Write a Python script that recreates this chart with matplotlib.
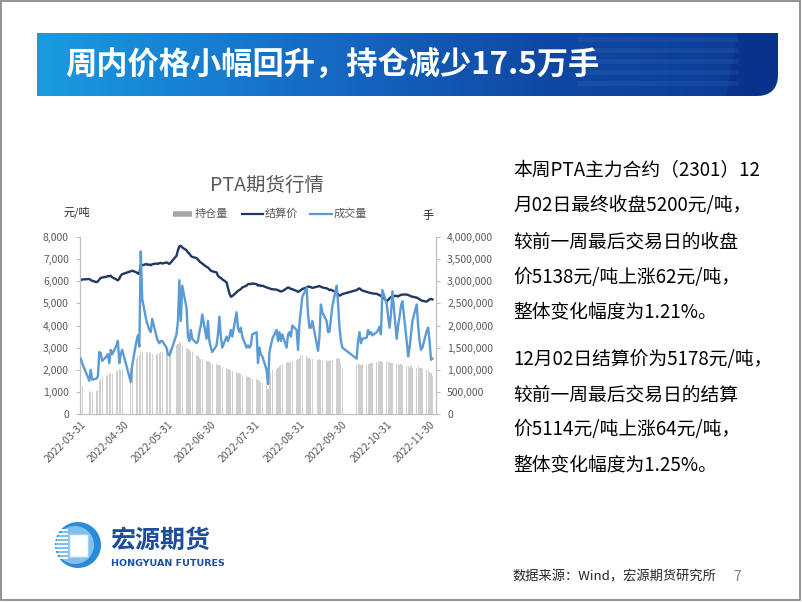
import numpy as np
import pandas as pd
import matplotlib
matplotlib.use("Agg")
import matplotlib.pyplot as plt
import matplotlib.dates as mdates
from matplotlib.path import Path
from matplotlib.patches import PathPatch, Rectangle, Circle, Polygon
from matplotlib.colors import LinearSegmentedColormap
from matplotlib.ticker import FuncFormatter, MultipleLocator

plt.rcParams["font.family"] = ["Noto Sans CJK SC", "DejaVu Sans"]

W, H = 802, 602

# trading calendar 2022-03-31 .. 2022-12-02 (CZCE holidays removed)
HOLIDAYS = ["2022-04-04", "2022-04-05", "2022-05-02", "2022-05-03", "2022-05-04",
            "2022-06-03", "2022-09-12", "2022-10-03", "2022-10-04", "2022-10-05",
            "2022-10-06", "2022-10-07"]
dates = pd.bdate_range("2022-03-31", "2022-12-02", freq="C", holidays=HOLIDAYS)

# settlement price, yuan/ton
settle = [
    6050,
    6080, 6100, 6060, 6020, 5960, 5990, 6080, 6150, 6170, 6200, 6240, 6220, 6250, 6180, 6080, 6040, 6120, 6250, 6320,
    6450, 6480, 6400, 6350, 6330, 6750, 6720, 6780, 6740, 6760, 6720, 6770, 6800, 6780, 6820, 6830, 6800, 6850, 6820,
    6780, 6850, 7150, 7400, 7580, 7600, 7530, 7400, 7300, 7250, 7150, 7100, 7050, 6980, 6900, 6850, 6800, 6650, 6620, 6550, 6480,
    6450, 6400, 6250, 6180, 6150, 6090, 5950, 5700, 5450, 5300, 5330, 5500, 5570, 5600, 5650, 5720, 5800, 5870, 5880, 5870, 5900,
    5870, 5800, 5830, 5780, 5800, 5720, 5700, 5680, 5650, 5640, 5620, 5600, 5560, 5540, 5550, 5680, 5720, 5700, 5650, 5640, 5560, 5520, 5550,
    5600, 5650, 5720, 5760, 5750, 5730, 5700, 5760, 5780, 5750, 5720, 5680, 5650, 5600, 5620, 5580, 5500, 5420, 5350, 5380, 5420,
    5600, 5650, 5680, 5620, 5580, 5520, 5500, 5480, 5470, 5450, 5430, 5400, 5380, 5330, 5300, 5100,
    5150, 5230, 5280, 5330, 5340, 5310, 5360, 5380, 5400, 5400, 5380, 5350, 5320, 5300, 5260, 5230, 5180, 5150, 5114, 5080, 5130, 5180,
    5200, 5178,
]

# trading volume, 10k lots
volume = [
    125,
    115, 75, 100, 77.5, 80, 85, 140, 137.5, 120, 130, 135, 115, 145, 135, 155, 165, 115, 135, 145,
    72.5, 110, 165, 177.5, 152.5, 367.5, 260, 210, 200, 190, 185, 215, 175, 165, 160, 165, 165, 150, 135,
    132.5, 140, 180, 210, 302.5, 210, 290, 240, 175, 165, 190, 170, 160, 165, 185, 200, 225, 170, 210, 165, 150,
    140, 155, 180, 220, 175, 150, 175, 165, 175, 190, 175, 230, 195, 185, 195, 175, 150, 155, 150, 155, 180,
    185, 115, 150, 135, 130, 100, 67.5, 140, 155, 170, 190, 165, 185, 165, 180, 150, 180, 185, 175, 200, 190, 145, 205,
    235, 265, 285, 225, 195, 195, 210, 142.5, 175, 247.5, 230, 210, 185, 186, 215, 243.5, 290, 250, 195, 165, 150,
    125, 165, 185, 160, 170, 172.5, 190, 180, 185, 177.5, 185, 190, 197.5, 180, 280, 250,
    220, 195, 225, 277.5, 170, 200, 220, 245, 255, 165, 130, 150, 180, 210, 247.5, 200, 165, 145, 150, 187.5, 195, 165,
    122.5, 125,
]

# open interest, 10k lots
open_int = [
    65,
    62.5, 52.5, 50, 47.5, 52.5, 55, 75, 80, 82.5, 85, 87.5, 90, 92.5, 90, 97.5, 100, 102.5, 100, 102.5,
    105, 110, 125, 130, 132.5, 142.5, 140, 140, 137.5, 139, 137.5, 136, 135, 135, 137.5, 139, 140, 142.5, 145,
    147.5, 150, 155, 157.5, 162.5, 160, 155, 150, 147.5, 145, 142.5, 140, 132.5, 130, 127.5, 125, 124, 120, 119, 117.5, 115,
    114, 112.5, 111, 110, 107.5, 106, 104, 102.5, 100, 99, 97.5, 95, 93.5, 92.5, 90, 89, 86, 84, 82.5, 81, 80,
    79, 77.5, 75, 72.5, 71, 65, 57.5, 90, 95, 100, 102.5, 105, 107.5, 110, 112.5, 115, 117.5, 115, 117.5, 120, 122.5, 125, 127.5,
    130, 132.5, 130, 127.5, 127.5, 125, 125, 122.5, 125, 122.5, 120, 122.5, 120, 122.5, 120, 122.5, 125, 127.5, 125, 115, 105,
    110, 112.5, 112.5, 110, 112.5, 110, 112.5, 112.5, 115, 115, 117.5, 117.5, 120, 120, 117.5, 120,
    117.5, 117.5, 115, 115, 112.5, 112.5, 110, 112.5, 110, 107.5, 107.5, 105, 107.5, 105, 105, 107.5, 105, 105, 102.5, 100, 99, 95,
    92.5, 85,
]

tick_dates = ["2022-03-31", "2022-04-30", "2022-05-31", "2022-06-30", "2022-07-31",
              "2022-08-31", "2022-09-30", "2022-10-31", "2022-11-30"]

TITLE = "周内价格小幅回升，持仓减少17.5万手"
CHART_TITLE = "PTA期货行情"
LEGEND = ["持仓量", "结算价", "成交量"]
COMMENT = [
    "本周PTA主力合约（2301）12",
    "月02日最终收盘5200元/吨，",
    "较前一周最后交易日的收盘",
    "价5138元/吨上涨62元/吨，",
    "整体变化幅度为1.21%。",
    "12月02日结算价为5178元/吨，",
    "较前一周最后交易日的结算",
    "价5114元/吨上涨64元/吨，",
    "整体变化幅度为1.25%。",
]
SOURCE = "数据来源：Wind，宏源期货研究所"

GRAY_TXT = "#595959"
AXIS_C = "#bfbfbf"
PRICE_C = "#1f3864"
VOL_C = "#5b9bd5"
OI_C = "#cfcfcf"


def rect(x0, y0, x1, y1):
    """pixel box (top-left origin) -> figure fraction rect"""
    return [x0 / W, 1 - y1 / H, (x1 - x0) / W, (y1 - y0) / H]


fig = plt.figure(figsize=(W / 100, H / 100), dpi=100)
fig.patch.set_facecolor("white")

# page layer in pixel coordinates
page = fig.add_axes([0, 0, 1, 1])
page.set_xlim(0, W)
page.set_ylim(H, 0)
page.axis("off")
page.add_patch(Rectangle((0.5, 0.5), W - 2.5, H - 2.5, fill=False, ec="#808080", lw=1.2))

# ---- title banner ----
bx0, by0, bx1, by1 = 37, 33, 778, 96
bw, bh = bx1 - bx0, by1 - by0
ban = fig.add_axes(rect(bx0, by0, bx1, by1))
ban.set_xlim(0, bw)
ban.set_ylim(bh, 0)
ban.axis("off")
cmap = LinearSegmentedColormap.from_list("ban", ["#1a9be0", "#1670c8", "#0f4aa6", "#0b3a95"])
img = ban.imshow(np.linspace(0, 1, 256)[None, :], extent=[0, bw, bh, 0], aspect="auto", cmap=cmap)
r = 22
clip = Path([(0, 0), (bw, 0), (bw, bh - r), (bw, bh), (bw - r, bh), (0, bh), (0, 0)],
            [Path.MOVETO, Path.LINETO, Path.LINETO, Path.CURVE3, Path.CURVE3, Path.LINETO, Path.CLOSEPOLY])
clip_patch = PathPatch(clip, fc="none", ec="none")
ban.add_patch(clip_patch)
img.set_clip_path(clip_patch)
for yy in [6, 17, 28, 39, 50]:
    ln, = ban.plot([540, bw - 40], [yy, yy], color="white", lw=3.5, alpha=0.05, solid_capstyle="butt")
    ln.set_clip_path(clip_patch)
cap = Polygon([(bw - 40, 0), (bw, 0), (bw, bh), (bw - 52, bh)], closed=True, fc="#082c86", ec="none", alpha=0.55)
ban.add_patch(cap)
cap.set_clip_path(clip_patch)
ban.text(28, bh / 2 + 1, TITLE, color="white", fontsize=22.5, fontweight="bold", va="center", ha="left")

# ---- chart ----
ax = fig.add_axes(rect(80, 237, 436, 414))
ax2 = ax.twinx()

ax2.bar(dates, np.array(open_int) * 1e4, width=0.8, color=OI_C, lw=0, zorder=1)
ax.plot(dates, settle, color=PRICE_C, lw=1.7, zorder=3)
ax2.plot(dates, np.array(volume) * 1e4, color=VOL_C, lw=1.7, zorder=3)

ax.set_ylim(0, 8000)
ax2.set_ylim(0, 4000000)
ax.yaxis.set_major_locator(MultipleLocator(1000))
ax2.yaxis.set_major_locator(MultipleLocator(500000))
ax.yaxis.set_major_formatter(FuncFormatter(lambda v, p: f"{int(v):,}"))
ax2.yaxis.set_major_formatter(FuncFormatter(lambda v, p: f"{int(v):,}"))
ax.set_xlim(pd.Timestamp("2022-03-30 12:00"), pd.Timestamp("2022-12-04 12:00"))

ax.set_xticks(pd.to_datetime(tick_dates))
ax.xaxis.set_major_formatter(mdates.DateFormatter("%Y-%m-%d"))
for lab in ax.get_xticklabels():
    lab.set_rotation(45)
    lab.set_ha("right")
    lab.set_rotation_mode("anchor")

for a in (ax, ax2):
    a.set_facecolor("none")
    a.spines["top"].set_visible(False)
    for s in ("left", "right", "bottom"):
        a.spines[s].set_color(AXIS_C)
        a.spines[s].set_linewidth(0.8)
ax.patch.set_visible(False)
ax.tick_params(axis="y", length=3, width=0.8, color=AXIS_C, pad=5, labelsize=7.5, labelcolor=GRAY_TXT)
ax2.tick_params(axis="y", length=3, width=0.8, color=AXIS_C, pad=5, labelsize=7.5, labelcolor=GRAY_TXT)
ax.tick_params(axis="x", length=0, pad=4, labelsize=7.5, labelcolor=GRAY_TXT)

page.text(267, 185, CHART_TITLE, fontsize=14, color=GRAY_TXT, ha="center", va="center")
page.text(63, 212, "元/吨", fontsize=8, color="#262626", ha="left", va="center")
page.text(422, 216, "手", fontsize=8, color="#262626", ha="left", va="center")

# legend
ly = 214
page.plot([173, 192], [ly, ly], color="#a6a6a6", lw=4, solid_capstyle="butt")
page.text(195, ly, LEGEND[0], fontsize=8, color=GRAY_TXT, va="center")
page.plot([242, 263], [ly, ly], color=PRICE_C, lw=1.6)
page.text(265, ly, LEGEND[1], fontsize=8, color=GRAY_TXT, va="center")
page.plot([310, 332], [ly, ly], color=VOL_C, lw=1.6)
page.text(334, ly, LEGEND[2], fontsize=8, color=GRAY_TXT, va="center")

# ---- commentary ----
line_y = [171, 206, 242, 277, 312, 360, 395, 430, 465]
for yy, s in zip(line_y, COMMENT):
    page.text(513, yy, s, fontsize=13.5, color="black", ha="left", va="center")

# ---- logo ----
cx, cy = 78, 545
page.add_patch(Circle((cx, cy), 23, fc="#2b8bd8", ec="none"))
page.add_patch(Circle((cx - 3, cy), 19, fc="#7fc0ee", ec="none"))
page.add_patch(Rectangle((69, 534), 19, 23, fc="white", ec="#9fd0f2", lw=1))
for yy in range(530, 562, 4):
    page.plot([55, 68], [yy, yy], color="white", lw=1.4, solid_capstyle="butt")
page.text(110, 541, "宏源期货", fontsize=18, fontweight="bold", color="#1d4e9e", ha="left", va="center")
page.text(111, 564, "HONGYUAN FUTURES", fontsize=6.8, fontweight="bold", color="#1d4e9e",
          ha="left", va="center", family="DejaVu Sans")

page.text(512, 577, SOURCE, fontsize=9.5, color="#262626", ha="left", va="center")
page.text(733, 577, "7", fontsize=10, color="#7f7f7f", ha="left", va="center")

fig.savefig("out.png", dpi=100, facecolor="white")
